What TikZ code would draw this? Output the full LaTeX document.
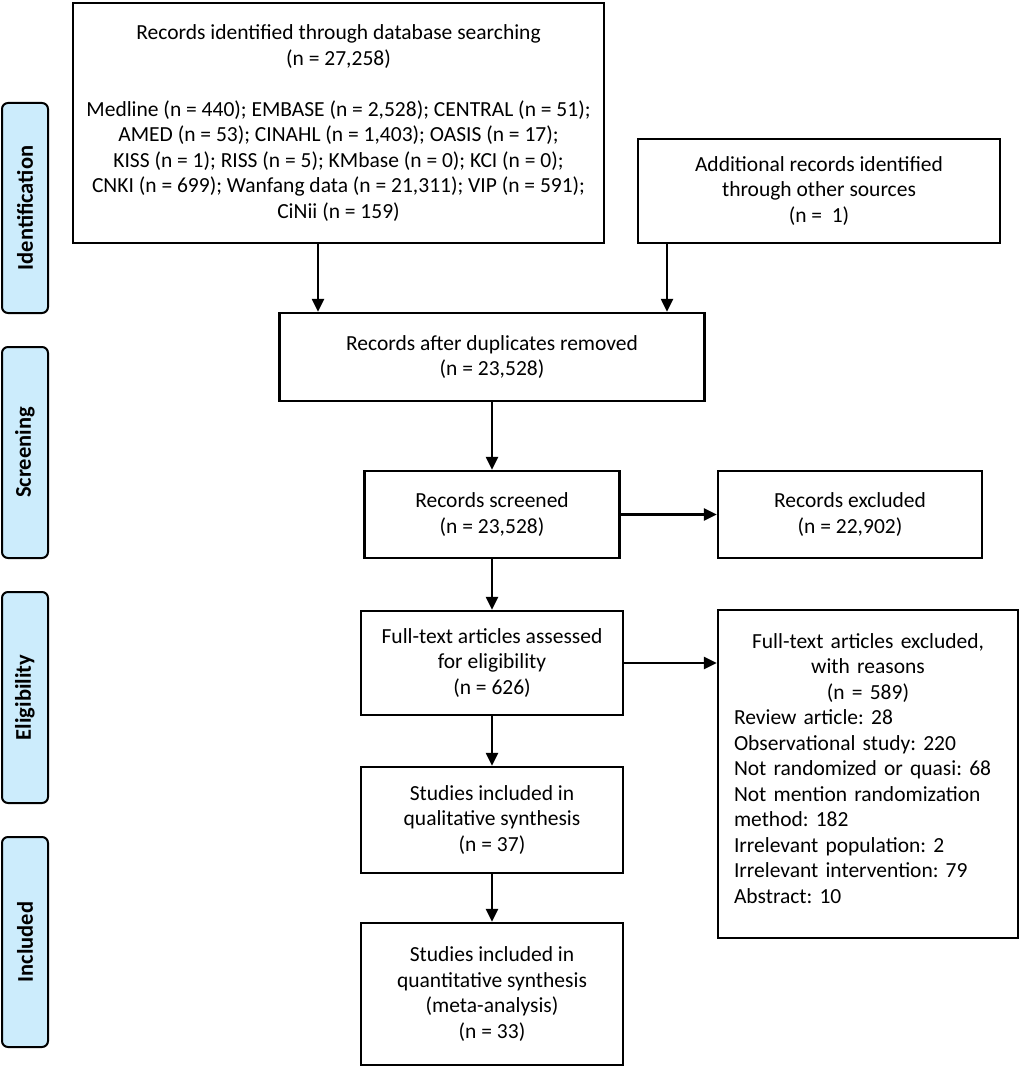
\documentclass[tikz,border=0pt]{standalone}
\usepackage{fontspec}
\setmainfont{Carlito}
\usetikzlibrary{arrows.meta}
\definecolor{sideblue}{RGB}{204,236,252}
\frenchspacing
\begin{document}
\begin{tikzpicture}[x=1pt,y=-1pt,
  box/.style={draw, line width=2.4pt, inner sep=0pt, align=center,
    font=\fontsize{21.5}{25.5}\selectfont},
  side/.style={draw, line width=2pt, rounded corners=6pt, fill=sideblue,
    minimum height=46pt, inner sep=0pt, rotate=90,
    font=\bfseries\fontsize{22.5}{26}\selectfont},
  arr/.style={line width=2.4pt, -{Triangle[length=13pt,width=12pt]}}]
\useasboundingbox (0,0) rectangle (1021,1067);

% side labels
\node[side, minimum width=210pt] (sid) at (25,208) {Identification};
\node[side, minimum width=211pt] (ssc) at (25,452.5) {Screening};
\node[side, minimum width=211pt] (sel) at (25,697.5) {Eligibility};
\node[side, minimum width=210pt] (sin) at (25,942) {Included};

% boxes
\node[box, minimum width=531pt, minimum height=240pt] (db) at (338.5,123)
 {Records identified through database searching\\
  (n = 27,258)\\[25.5pt]
  Medline (n = 440); EMBASE (n = 2,528); CENTRAL (n = 51);\\
  AMED (n = 53); CINAHL (n = 1,403); OASIS (n = 17);\\
  KISS (n = 1); RISS (n = 5); KMbase (n = 0); KCI (n = 0);\\
  CNKI (n = 699); Wanfang data (n = 21,311); VIP (n = 591);\\
  CiNii (n = 159)};
\node[box, minimum width=362pt, minimum height=104pt] (add) at (819,191)
 {Additional records identified\\ through other sources\\ (n = \ 1)};
\node[box, minimum width=425pt, minimum height=88pt] (dup) at (492,357)
 {Records after duplicates removed\\ (n = 23,528)};
\node[box, minimum width=255pt, minimum height=87pt] (scr) at (492,514.5)
 {Records screened\\ (n = 23,528)};
\node[box, minimum width=264pt, minimum height=87pt] (exc) at (850,514.5)
 {Records excluded\\ (n = 22,902)};
\node[box, minimum width=262pt, minimum height=104pt] (full) at (492,663)
 {Full-text articles assessed\\ for eligibility\\ (n = 626)};
\node[box, minimum width=300pt, minimum height=328pt, text width=268pt, align=left] (reas) at (868,774)
 {\makebox[\linewidth][c]{Full-text articles excluded,}\\
  \makebox[\linewidth][c]{with reasons}\\
  \makebox[\linewidth][c]{(n = 589)}\\
  Review article: 28\\
  Observational study: 220\\
  Not randomized or quasi: 68\\
  \makebox[\linewidth][s]{Not mention randomization}\\
  method: 182\\
  Irrelevant population: 2\\
  Irrelevant intervention: 79\\
  Abstract: 10\\[-14pt]\mbox{}};
\node[box, minimum width=262pt, minimum height=106pt] (qual) at (492,820)
 {Studies included in\\ qualitative synthesis\\ (n = 37)};
\node[box, minimum width=262pt, minimum height=142pt] (quant) at (492,994)
 {Studies included in\\ quantitative synthesis\\ (meta-analysis)\\ (n = 33)};

% connectors
\coordinate (xa) at (318,0);
\coordinate (xb) at (667,0);
\draw[arr] (db.south -| xa) -- (dup.north -| xa);
\draw[arr] (add.south -| xb) -- (dup.north -| xb);
\draw[arr] (dup.south) -- (scr.north);
\draw[arr] (scr.east) -- (exc.west);
\draw[arr] (scr.south) -- (full.north);
\draw[arr] (full.east) -- (full.east -| reas.west);
\draw[arr] (full.south) -- (qual.north);
\draw[arr] (qual.south) -- (quant.north);
\end{tikzpicture}
\end{document}
